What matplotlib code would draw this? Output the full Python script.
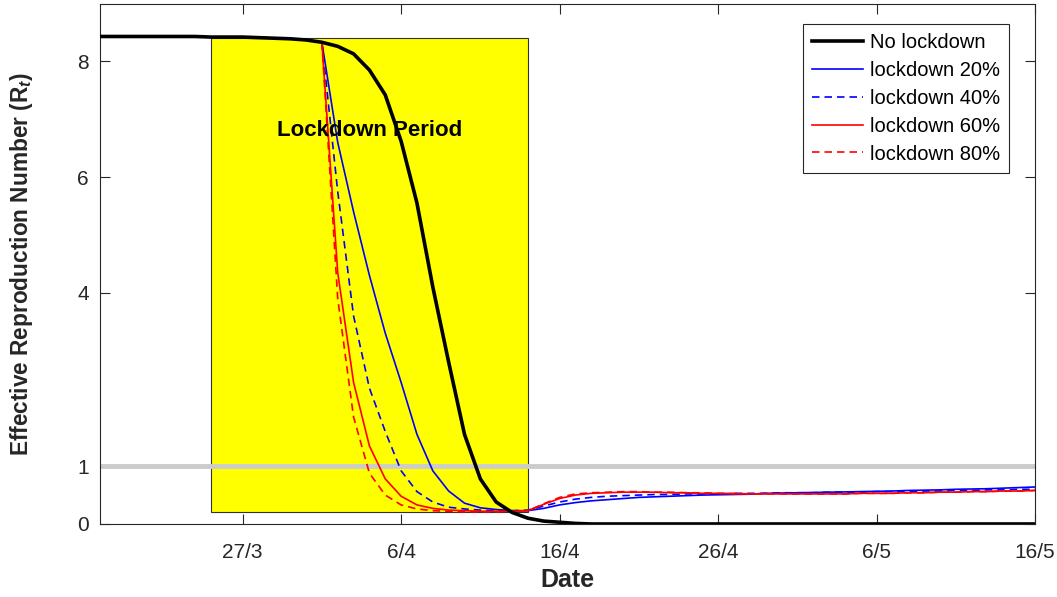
import matplotlib
matplotlib.use("Agg")
import matplotlib.pyplot as plt
from matplotlib.patches import Rectangle

plt.rcParams["font.family"] = ["Liberation Sans", "DejaVu Sans"]
plt.rcParams["mathtext.fontset"] = "custom"
plt.rcParams["mathtext.it"] = "Liberation Sans:italic:bold"
plt.rcParams["mathtext.rm"] = "Liberation Sans:bold"

# days counted from 18/3
days_all = list(range(0, 60))
days_lock = list(range(14, 60))

no_lockdown = [8.43, 8.43, 8.43, 8.43, 8.43, 8.43, 8.43, 8.42, 8.42, 8.42,
               8.41, 8.40, 8.39, 8.37, 8.33, 8.26, 8.13, 7.85, 7.42, 6.62,
               5.55, 4.10, 2.80, 1.55, 0.78, 0.38, 0.20, 0.10, 0.05, 0.03,
               0.01, 0.0, 0.0, 0.0, 0.0, 0.0, 0.0, 0.0, 0.0, 0.0,
               0.0, 0.0, 0.0, 0.0, 0.0, 0.0, 0.0, 0.0, 0.0, 0.0,
               0.0, 0.0, 0.0, 0.0, 0.0, 0.0, 0.0, 0.0, 0.0, 0.0]

lock_20 = [8.33, 6.60, 5.40, 4.30, 3.30, 2.45, 1.55, 0.92, 0.57, 0.36,
           0.28, 0.25, 0.23, 0.23, 0.27, 0.33, 0.37, 0.40, 0.42, 0.44,
           0.46, 0.47, 0.48, 0.49, 0.50, 0.505, 0.51, 0.515, 0.53, 0.535,
           0.54, 0.545, 0.55, 0.555, 0.56, 0.565, 0.57, 0.58, 0.585, 0.59,
           0.60, 0.605, 0.61, 0.62, 0.63, 0.64]

lock_40 = [8.33, 5.75, 3.60, 2.35, 1.60, 0.92, 0.56, 0.38, 0.29, 0.26,
           0.24, 0.23, 0.23, 0.24, 0.31, 0.38, 0.43, 0.46, 0.48, 0.49,
           0.50, 0.51, 0.51, 0.52, 0.52, 0.52, 0.53, 0.53, 0.53, 0.54,
           0.54, 0.54, 0.55, 0.55, 0.55, 0.56, 0.56, 0.56, 0.57, 0.57,
           0.58, 0.58, 0.59, 0.59, 0.60, 0.60]

lock_60 = [8.33, 4.35, 2.45, 1.35, 0.78, 0.48, 0.33, 0.27, 0.24, 0.23,
           0.22, 0.22, 0.22, 0.23, 0.34, 0.44, 0.50, 0.53, 0.54, 0.55,
           0.55, 0.55, 0.54, 0.54, 0.53, 0.53, 0.52, 0.52, 0.52, 0.52,
           0.52, 0.52, 0.52, 0.52, 0.53, 0.53, 0.53, 0.54, 0.54, 0.55,
           0.55, 0.56, 0.56, 0.57, 0.57, 0.58]

lock_80 = [8.33, 3.90, 1.85, 0.88, 0.50, 0.33, 0.26, 0.23, 0.22, 0.21,
           0.21, 0.21, 0.22, 0.23, 0.35, 0.46, 0.52, 0.54, 0.55, 0.56,
           0.56, 0.55, 0.55, 0.54, 0.54, 0.53, 0.53, 0.52, 0.52, 0.52,
           0.52, 0.52, 0.52, 0.52, 0.53, 0.53, 0.53, 0.54, 0.54, 0.55,
           0.55, 0.56, 0.56, 0.57, 0.57, 0.58]

# lockdown window (days) and its Rt span
lock_start, lock_end = 7, 27
lock_low, lock_high = 0.21, 8.40

tick_days = [9, 19, 29, 39, 49, 59]
tick_labels = ["27/3", "6/4", "16/4", "26/4", "6/5", "16/5"]
y_ticks = [0, 1, 4, 6, 8]

fig = plt.figure(figsize=(10.57, 5.97), dpi=100)
ax = fig.add_axes([0.0946, 0.1223, 0.8846, 0.8718])

ax.add_patch(Rectangle((lock_start, lock_low), lock_end - lock_start,
                       lock_high - lock_low, facecolor="yellow",
                       edgecolor="#333333", linewidth=0.8, zorder=1))
ax.axhline(1, color="#cccccc", linewidth=3.5, zorder=2)

ax.plot(days_all, no_lockdown, color="black", linewidth=2.6, label="No lockdown", zorder=5)
ax.plot(days_lock, lock_20, color="blue", linewidth=1.2, label="lockdown 20%", zorder=4)
ax.plot(days_lock, lock_40, color="blue", linewidth=1.2, linestyle=(0, (4.5, 3)),
        label="lockdown 40%", zorder=4)
ax.plot(days_lock, lock_60, color="red", linewidth=1.2, label="lockdown 60%", zorder=4)
ax.plot(days_lock, lock_80, color="red", linewidth=1.2, linestyle=(0, (4.5, 3)),
        label="lockdown 80%", zorder=4)

ax.text(17, 6.81, "Lockdown Period", fontsize=16, fontweight="bold",
        ha="center", va="center", zorder=6)

ax.set_xlim(0, 59)
ax.set_ylim(0, 9)
ax.set_xticks(tick_days)
ax.set_xticklabels(tick_labels)
ax.set_yticks(y_ticks)

ax.tick_params(direction="in", length=7, width=0.8, colors="#262626",
               labelsize=15, top=True, right=True)
ax.tick_params(axis="x", pad=14)
ax.tick_params(axis="y", pad=8)
for s in ax.spines.values():
    s.set_color("#262626")
    s.set_linewidth(0.8)

ax.set_xlabel("Date", fontsize=18, fontweight="bold", color="#262626", labelpad=4)
ax.set_ylabel("Effective Reproduction Number (R$_{t}$)", fontsize=16.3,
              fontweight="bold", color="#262626", labelpad=30)

leg = ax.legend(loc="upper right", bbox_to_anchor=(0.972, 0.9606), fontsize=14.5,
                fancybox=False, framealpha=1, edgecolor="#262626",
                handlelength=2.5, labelspacing=0.44, borderaxespad=0,
                handletextpad=0.35, borderpad=0.45)
leg.get_frame().set_linewidth(0.8)

fig.savefig("out.png", dpi=100)
